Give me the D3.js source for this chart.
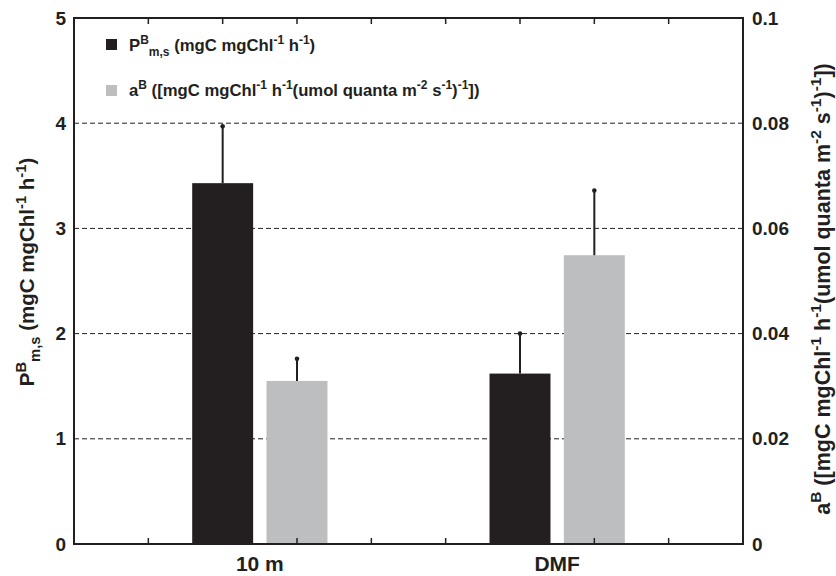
<!DOCTYPE html>
<html>
<head>
<meta charset="utf-8">
<script src="https://cdn.jsdelivr.net/npm/d3@7"></script>
<style>
  body { margin: 0; background: #fff; }
  svg text { font-family: "Liberation Sans", Arial, Helvetica, sans-serif; font-weight: bold; fill: #231f20; }
</style>
</head>
<body>
<svg id="chart" width="836" height="576"></svg>
<script>
// Data
var groups = ["10 m", "DMF"];
var series = ["pbm", "ab"];
var pbmVals = [3.43, 1.62];
var pbmErr = [0.54, 0.38];
var abVals = [0.031, 0.0549];
var abErr = [0.0042, 0.0123];
var leftTicks = [0, 1, 2, 3, 4, 5];
var rightTicks = [0, 0.02, 0.04, 0.06, 0.08, 0.1];
var gridTicks = [1, 2, 3, 4];
var minorTicks = [1, 2, 3, 4, 5, 6, 7, 8];

var BLACK = "#231f20", GRAY = "#bcbec0";
var FONT_TICK = "19px", FONT_LEG = "16.7px", FONT_CAT = "21px";

var margin = {left: 74, right: 93, top: 18, bottom: 32};
var W = 836, H = 576;
var svg = d3.select("#chart");

var x0 = margin.left, x1 = W - margin.right;
var y0 = H - margin.bottom, y1 = margin.top;

// scales
var xUnits = d3.scaleLinear().domain([0, 9]).range([x0, x1]);
var xGroup = d3.scaleBand().domain(groups).range([x0, x1])
  .paddingInner(0.5).paddingOuter(0.375);
var xSeries = d3.scaleBand().domain(series).range([0, xGroup.bandwidth()])
  .paddingInner(0.18).paddingOuter(0.09);
var yLeft = d3.scaleLinear().domain([0, 5]).range([y0, y1]);
var yRight = d3.scaleLinear().domain([0, 0.1]).range([y0, y1]);

// dashed gridlines
svg.append("g").selectAll("line").data(gridTicks).enter().append("line")
  .attr("x1", x0).attr("x2", x1)
  .attr("y1", function(d) { return yLeft(d); })
  .attr("y2", function(d) { return yLeft(d); })
  .attr("stroke", BLACK).attr("stroke-width", 1)
  .attr("stroke-dasharray", "5,3");

// bars
var rows = groups.map(function(g, i) {
  return [
    {g: g, s: "pbm", v: pbmVals[i], e: pbmErr[i], y: yLeft, c: BLACK},
    {g: g, s: "ab", v: abVals[i], e: abErr[i], y: yRight, c: GRAY}
  ];
});
var flat = [].concat.apply([], rows);

var bars = svg.append("g");
bars.selectAll("rect").data(flat).enter().append("rect")
  .attr("x", function(d) { return xGroup(d.g) + xSeries(d.s); })
  .attr("width", xSeries.bandwidth())
  .attr("y", function(d) { return d.y(d.v); })
  .attr("height", function(d) { return y0 - d.y(d.v); })
  .attr("fill", function(d) { return d.c; });

// error bars (upper only)
var cx = function(d) { return xGroup(d.g) + xSeries(d.s) + xSeries.bandwidth() / 2; };
bars.selectAll("line.err").data(flat).enter().append("line")
  .attr("class", "err")
  .attr("x1", cx).attr("x2", cx)
  .attr("y1", function(d) { return d.y(d.v); })
  .attr("y2", function(d) { return d.y(d.v + d.e); })
  .attr("stroke", BLACK).attr("stroke-width", 2);
bars.selectAll("circle").data(flat).enter().append("circle")
  .attr("cx", cx)
  .attr("cy", function(d) { return d.y(d.v + d.e); })
  .attr("r", 2.3)
  .attr("fill", BLACK);

// frame
svg.append("rect")
  .attr("x", x0).attr("y", y1)
  .attr("width", x1 - x0).attr("height", y0 - y1)
  .attr("fill", "none").attr("stroke", BLACK).attr("stroke-width", 2);

// inner minor ticks top and bottom
var mt = svg.append("g");
mt.selectAll("line.t").data(minorTicks).enter().append("line")
  .attr("x1", function(d) { return xUnits(d); }).attr("x2", function(d) { return xUnits(d); })
  .attr("y1", y1).attr("y2", y1 + 6)
  .attr("stroke", BLACK).attr("stroke-width", 1.5);
mt.selectAll("line.b").data(minorTicks).enter().append("line")
  .attr("x1", function(d) { return xUnits(d); }).attr("x2", function(d) { return xUnits(d); })
  .attr("y1", y0).attr("y2", y0 - 6)
  .attr("stroke", BLACK).attr("stroke-width", 1.5);

// axis labels
svg.append("g").selectAll("text").data(leftTicks).enter().append("text")
  .attr("x", x0 - 8)
  .attr("y", function(d) { return yLeft(d); })
  .attr("dy", "0.35em")
  .attr("text-anchor", "end")
  .style("font-size", FONT_TICK)
  .text(function(d) { return d; });

svg.append("g").selectAll("text").data(rightTicks).enter().append("text")
  .attr("x", x1 + 9)
  .attr("y", function(d) { return yRight(d); })
  .attr("dy", "0.35em")
  .attr("text-anchor", "start")
  .style("font-size", FONT_TICK)
  .text(function(d) { return d === 0 ? "0" : d3.format(".2~f")(d); });

svg.append("g").selectAll("text").data(groups).enter().append("text")
  .attr("x", function(d) { return xGroup(d) + xGroup.bandwidth() / 2; })
  .attr("y", y0 + 27)
  .attr("text-anchor", "middle")
  .style("font-size", FONT_CAT)
  .text(function(d) { return d; });

// rich text helper: parts = [[text, "n"|"sup"|"sub"], ...]
function richText(sel, parts) {
  var shift = {n: 0, sup: -0.4, sub: 0.3};
  var prev = 0;
  parts.forEach(function(p) {
    var s = shift[p[1]];
    var t = sel.append("tspan")
      .attr("dy", (s - prev) + "em")
      .text(p[0]);
    if (p[1] !== "n") t.style("font-size", "0.72em").attr("dy", ((s - prev) / 0.72) + "em");
    prev = s;
  });
}

var pbmLabel = [["P", "n"], ["B", "sup"], ["m,s", "sub"], [" (mgC mgChl", "n"], ["-1", "sup"], [" h", "n"], ["-1", "sup"], [")", "n"]];
var abLabel = [["a", "n"], ["B", "sup"], [" ([mgC mgChl", "n"], ["-1", "sup"], [" h", "n"], ["-1", "sup"], ["(umol quanta m", "n"], ["-2", "sup"], [" s", "n"], ["-1", "sup"], [")", "n"], ["-1", "sup"], ["])", "n"]];

// legend
var leg = svg.append("g");
leg.append("rect").attr("x", 106).attr("y", 39).attr("width", 11).attr("height", 11).attr("fill", BLACK);
leg.append("rect").attr("x", 106).attr("y", 85).attr("width", 11).attr("height", 11).attr("fill", GRAY);
richText(leg.append("text").attr("x", 129).attr("y", 51).style("font-size", FONT_LEG), pbmLabel);
richText(leg.append("text").attr("x", 129).attr("y", 96).style("font-size", FONT_LEG), abLabel);

// axis titles
richText(svg.append("text")
  .attr("transform", "translate(34,272) rotate(-90)")
  .attr("text-anchor", "middle")
  .style("font-size", "20.5px"), pbmLabel);
richText(svg.append("text")
  .attr("transform", "translate(830,289) rotate(-90)")
  .attr("text-anchor", "middle")
  .style("font-size", "21.5px"), abLabel);
</script>
</body>
</html>
